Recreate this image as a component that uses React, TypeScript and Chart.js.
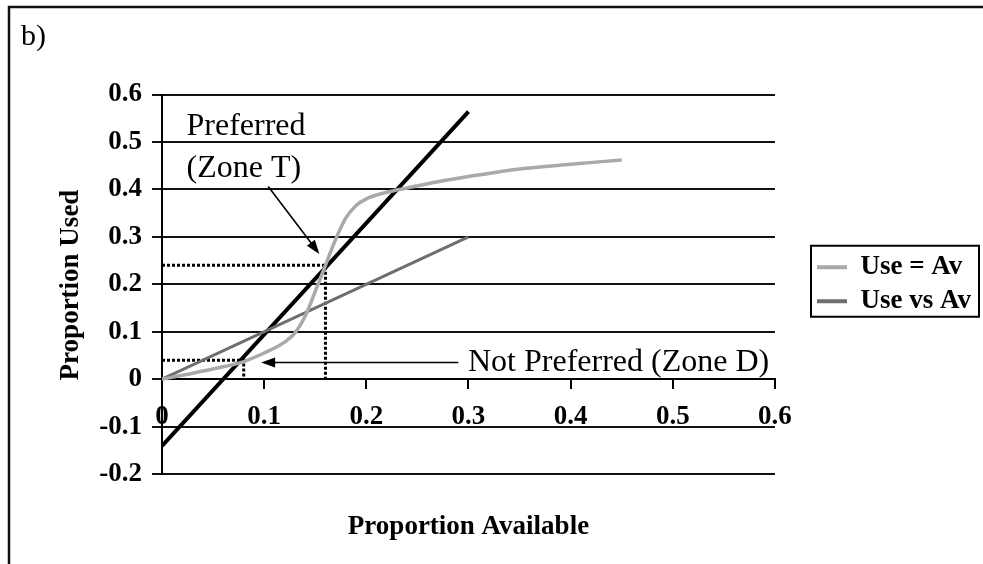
import { useEffect, useRef } from 'react';
import { Chart, registerables } from 'chart.js';

Chart.register(...registerables);

const W = 983;
const H = 564;
const SERIF = "'Liberation Serif', 'Times New Roman', serif";

// ---- data ----
const xTickLabels = ['0', '0.1', '0.2', '0.3', '0.4', '0.5', '0.6'];
const yTickLabels = ['-0.2', '-0.1', '0', '0.1', '0.2', '0.3', '0.4', '0.5', '0.6'];

const legendLabels = ['Use = Av', 'Use vs Av'];

// S-shaped use-vs-availability curve
const curveX = [0, 0.02, 0.04, 0.06, 0.08, 0.10, 0.12, 0.13, 0.14, 0.15, 0.16, 0.17, 0.18, 0.19, 0.20, 0.22, 0.24, 0.27, 0.30, 0.35, 0.40, 0.45];
const curveY = [0, 0.008, 0.017, 0.026, 0.037, 0.055, 0.078, 0.097, 0.132, 0.185, 0.24, 0.295, 0.34, 0.366, 0.38, 0.394, 0.403, 0.416, 0.427, 0.443, 0.453, 0.462];

// 1:1 line
const identityX = [0, 0.3];
const identityY = [0, 0.3];

// steep straight line
const trendX = [0, 0.3];
const trendY = [-0.141, 0.564];

// dotted guides
const guideTX = [0, 0.16, 0.16];
const guideTY = [0.24, 0.24, 0];
const guideDX = [0, 0.08, 0.08];
const guideDY = [0.04, 0.04, 0];

// annotations (data units)
const noteTexts = ['Preferred', '(Zone T)', 'Not Preferred (Zone D)'];
const noteX = [0.024, 0.024, 0.2995];
const noteY = [0.514, 0.426, 0.0175];
const arrowFromX = [0.104, 0.29];
const arrowFromY = [0.406, 0.035];
const arrowToX = [0.154, 0.097];
const arrowToY = [0.264, 0.035];

const zip = (xs: number[], ys: number[]) => xs.map((x, i) => ({ x, y: ys[i] }));

function drawArrow(ctx: CanvasRenderingContext2D, x1: number, y1: number, x2: number, y2: number) {
  const a = Math.atan2(y2 - y1, x2 - x1);
  const hl = 14;
  const hw = 5;
  const c = Math.cos(a);
  const s = Math.sin(a);
  ctx.beginPath();
  ctx.moveTo(x1, y1);
  ctx.lineTo(x2 - c * hl * 0.7, y2 - s * hl * 0.7);
  ctx.stroke();
  ctx.beginPath();
  ctx.moveTo(x2, y2);
  ctx.lineTo(x2 - hl * c + hw * s, y2 - hl * s - hw * c);
  ctx.lineTo(x2 - hl * c - hw * s, y2 - hl * s + hw * c);
  ctx.closePath();
  ctx.fill();
}

const decorPlugin = {
  id: 'decor',
  afterDraw(chart: any) {
    const ctx: CanvasRenderingContext2D = chart.ctx;
    const xs = chart.scales.x;
    const ys = chart.scales.y;
    const ca = chart.chartArea;
    ctx.save();
    // outer frame (top and left)
    ctx.strokeStyle = '#111';
    ctx.lineWidth = 2.5;
    ctx.beginPath();
    ctx.moveTo(9, H);
    ctx.lineTo(9, 7);
    ctx.lineTo(W, 7);
    ctx.stroke();

    ctx.fillStyle = '#000';
    ctx.textAlign = 'left';
    ctx.textBaseline = 'alphabetic';
    ctx.font = `30px ${SERIF}`;
    ctx.fillText('b)', 21, 45);

    // axis titles
    ctx.font = `bold 27px ${SERIF}`;
    ctx.textAlign = 'center';
    ctx.textBaseline = 'middle';
    ctx.fillText('Proportion Available', (ca.left + ca.right) / 2, 527);
    ctx.save();
    ctx.translate(71, 285);
    ctx.rotate(-Math.PI / 2);
    ctx.fillText('Proportion Used', 0, 0);
    ctx.restore();

    // annotation texts
    ctx.font = `32px ${SERIF}`;
    ctx.textAlign = 'left';
    ctx.textBaseline = 'alphabetic';
    noteTexts.forEach((t, i) => {
      ctx.fillText(t, xs.getPixelForValue(noteX[i]), ys.getPixelForValue(noteY[i]));
    });

    // arrows
    ctx.strokeStyle = '#000';
    ctx.lineWidth = 1.6;
    arrowFromX.forEach((_, i) => {
      drawArrow(
        ctx,
        xs.getPixelForValue(arrowFromX[i]),
        ys.getPixelForValue(arrowFromY[i]),
        xs.getPixelForValue(arrowToX[i]),
        ys.getPixelForValue(arrowToY[i])
      );
    });

    // legend border
    const lg = chart.legend;
    if (lg && lg.legendHitBoxes && lg.legendHitBoxes.length) {
      const hb = lg.legendHitBoxes;
      const top = hb[0].top - 8;
      const bottom = hb[hb.length - 1].top + hb[hb.length - 1].height + 2;
      const left = hb[0].left - 6;
      const right = W - 4;
      ctx.strokeStyle = '#000';
      ctx.lineWidth = 2;
      ctx.strokeRect(left, top, right - left, bottom - top);
    }
    ctx.restore();
  },
};

export default function App() {
  const ref = useRef<HTMLCanvasElement>(null);

  useEffect(() => {
    const canvas = ref.current!;
    const legendFontSize = 27;
    const legendBox = 30;
    const legendPad = 7;
    const m = document.createElement('canvas').getContext('2d')!;
    m.font = `bold ${legendFontSize}px ${SERIF}`;
    const textW = Math.max(...legendLabels.map((t) => m.measureText(t).width));
    const legendW = legendPad + legendBox + legendFontSize / 2 + textW;
    const spacer = 35;
    const targetRight = 776;
    const rest = W - targetRight - spacer; // padRight + legend width
    const L = Math.min(legendW, (W - rest) / 5);
    const padRight = Math.max(0, rest - L);

    const font = { family: SERIF, size: 27, weight: 'bold' as const };

    const chart = new Chart(canvas, {
      type: 'line',
      data: {
        datasets: [
          {
            label: legendLabels[0],
            data: zip(curveX, curveY),
            borderColor: '#a9a9a9',
            backgroundColor: '#a9a9a9',
            borderWidth: 3.5,
            pointRadius: 0,
            cubicInterpolationMode: 'monotone',
          },
          {
            label: legendLabels[1],
            data: zip(identityX, identityY),
            borderColor: '#6e6e6e',
            backgroundColor: '#6e6e6e',
            borderWidth: 3,
            pointRadius: 0,
          },
          {
            label: 'trend',
            data: zip(trendX, trendY),
            borderColor: '#000',
            backgroundColor: '#000',
            borderWidth: 4,
            pointRadius: 0,
          },
          {
            label: 'guideT',
            data: zip(guideTX, guideTY),
            borderColor: '#000',
            borderWidth: 3,
            borderDash: [3, 2],
            pointRadius: 0,
          },
          {
            label: 'guideD',
            data: zip(guideDX, guideDY),
            borderColor: '#000',
            borderWidth: 3,
            borderDash: [3, 2],
            pointRadius: 0,
          },
        ],
      },
      options: {
        responsive: false,
        animation: false,
        devicePixelRatio: 1,
        events: [],
        layout: { padding: { left: 0, top: 94.5, bottom: 90, right: padRight } },
        scales: {
          x: {
            type: 'linear',
            position: { y: 0 } as any,
            min: 0,
            max: 0.6,
            ticks: {
              stepSize: 0.1,
              padding: 13,
              color: '#000',
              font,
              maxRotation: 0,
              callback: (_v: any, i: number) => xTickLabels[i],
            },
            grid: { drawOnChartArea: false, drawTicks: true, tickLength: 9, color: '#000', lineWidth: 2 },
            border: { display: true, color: '#000', width: 2 },
          },
          y: {
            type: 'linear',
            position: 'left',
            min: -0.2,
            max: 0.6,
            ticks: {
              stepSize: 0.1,
              padding: 10,
              color: '#000',
              font,
              callback: (_v: any, i: number) => yTickLabels[i],
            },
            grid: { color: '#111', lineWidth: 2, tickLength: 10 },
            border: { display: true, color: '#000', width: 2 },
            afterFit: (s: any) => {
              s.width = 162;
            },
          },
          y2: {
            type: 'linear',
            position: 'right',
            display: true,
            ticks: { display: false },
            grid: { display: false },
            border: { display: false },
            afterFit: (s: any) => {
              s.width = spacer;
            },
          },
        },
        plugins: {
          tooltip: { enabled: false },
          title: { display: false },
          legend: {
            display: true,
            position: 'right',
            align: 'center',
            labels: {
              boxWidth: legendBox,
              boxHeight: 4,
              padding: legendPad,
              color: '#000',
              font: { family: SERIF, size: legendFontSize, weight: 'bold' },
              generateLabels: (c: any) =>
                (Chart.defaults.plugins.legend.labels.generateLabels as any)(c)
                  .filter((it: any) => it.datasetIndex < 2)
                  .map((it: any) => ({ ...it, lineWidth: 0 })),
            },
          },
        },
      },
      plugins: [decorPlugin],
    } as any);

    return () => chart.destroy();
  }, []);

  return (
    <div style={{ position: 'fixed', left: 0, top: 0, width: W, height: H, background: '#fff' }}>
      <canvas ref={ref} width={W} height={H} style={{ display: 'block', width: W, height: H }} />
    </div>
  );
}
